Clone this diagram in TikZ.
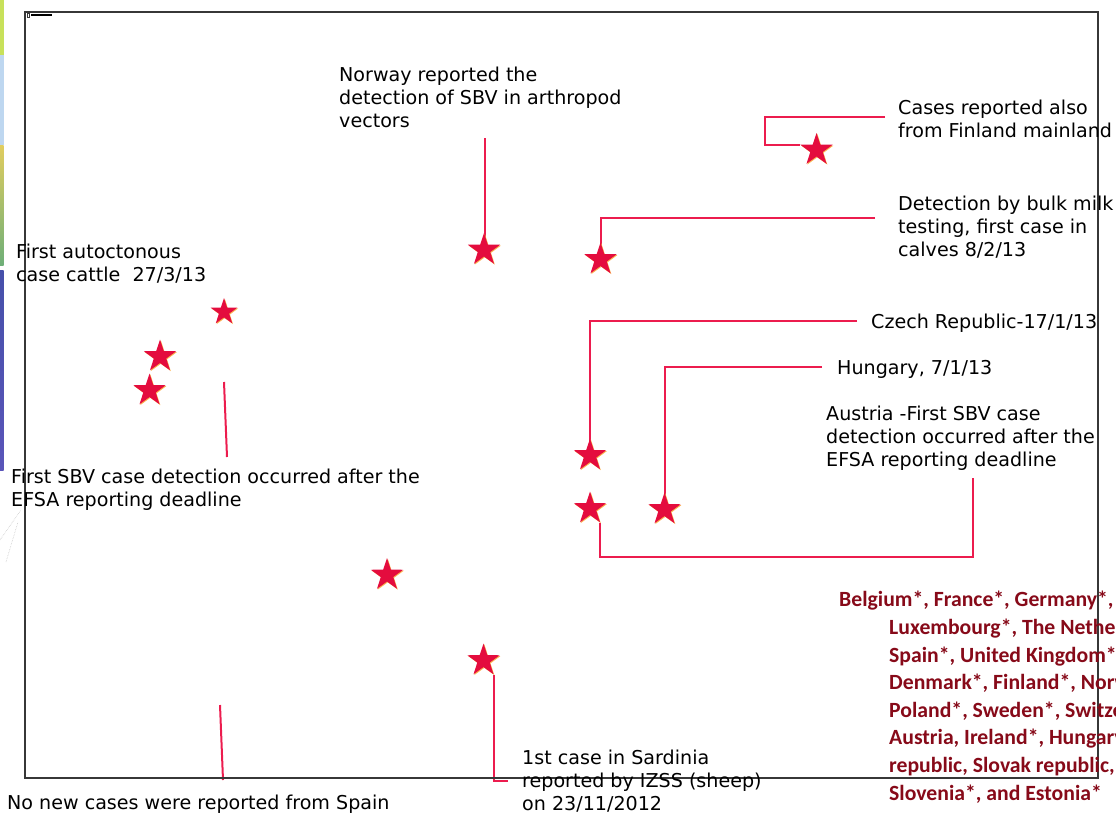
\documentclass[tikz,border=0pt]{standalone}
\usepackage{fontspec}
\setmainfont{DejaVu Sans}
\newfontfamily\listfont{Carlito}
\usetikzlibrary{shapes.geometric,backgrounds,shadows}

\definecolor{starred}{RGB}{228,12,62}
\definecolor{starglow}{RGB}{250,170,60}
\definecolor{linkred}{RGB}{236,28,78}
\definecolor{framegray}{RGB}{55,55,55}
\definecolor{listred}{RGB}{135,10,25}
\definecolor{stripA}{RGB}{200,225,90}
\definecolor{stripB}{RGB}{190,215,240}
\definecolor{stripC}{RGB}{225,205,95}
\definecolor{stripD}{RGB}{110,175,120}
\definecolor{stripE}{RGB}{70,80,170}
\definecolor{stripF}{RGB}{90,85,185}

\tikzset{
  case/.style={star, star points=5, star point ratio=2.6, fill=starred, draw=none,
    inner sep=0pt, minimum size=34pt,
    drop shadow={shadow xshift=0.8pt, shadow yshift=-0.8pt, fill=starglow, opacity=0.9}},
  smallcase/.style={case, minimum size=28pt},
  link/.style={draw=linkred, line width=2pt},
  % multi-line labels are placed by the baseline of their last line
  note/.style={anchor=base west, inner sep=0pt, align=left,
    font=\fontsize{19.1}{23}\selectfont},
  countries/.style={anchor=base west, inner sep=0pt, align=left, text=listred,
    font=\listfont\bfseries\fontsize{21.7}{27.6}\selectfont},
}

\begin{document}
\begin{tikzpicture}[x=1pt, y=-1pt]
\useasboundingbox (0,0) rectangle (1116,814);

% colour strip at the left edge
\fill[stripA] (0,0) rectangle (3.5,55);
\fill[stripB] (0,55) rectangle (3.5,145);
\shade[top color=stripC, bottom color=stripD] (0,145) rectangle (3.5,265);
\shade[top color=stripE, bottom color=stripF] (0,270) rectangle (3.5,470);
\draw[gray!45, densely dotted, line width=0.6pt] (0,540) -- (21,510);
\draw[gray!45, densely dotted, line width=0.6pt] (6,562) -- (18,522);

% map frame
\draw[framegray, line width=1.3pt] (25,12) rectangle (1098,778);
\draw[framegray, line width=0.5pt] (27,13.5) rectangle (29.5,17);
\fill[black] (31,13.5) rectangle (52,16);

% case markers
\node[case] (sNorway) at (484,250) {};
\node[case] (sBulk) at (600.5,259.5) {};
\node[case] (sFinland) at (816.5,150) {};
\node[smallcase] (sAuto) at (224,312) {};
\node[case] (sWestA) at (160,356.5) {};
\node[case] (sWestB) at (149.5,390.5) {};
\node[case] (sCzech) at (590,455.5) {};
\node[case] (sCzechB) at (590,508.5) {};
\node[case] (sHungary) at (664.5,509.5) {};
\node[case] (sItaly) at (387,575) {};
\node[case] (sSardinia) at (483.5,660.5) {};

% labels
\node[note] (tNorway) at (339,127) {Norway reported the\\detection of SBV in arthropod\\vectors};
\node[note] (tFinland) at (898,137) {Cases reported also\\from Finland mainland};
\node[note] (tBulk) at (898,256) {Detection by bulk milk\\testing, first case in\\calves 8/2/13};
\node[note] (tAuto) at (16,281) {First autoctonous\\case cattle\ \ 27/3/13};
\node[note] (tCzech) at (871,328) {Czech Republic-17/1/13};
\node[note] (tHungary) at (837,374) {Hungary, 7/1/13};
\node[note] (tAustria) at (826,466) {Austria -First SBV case\\detection occurred after the\\EFSA reporting deadline};
\node[note] (tEfsa) at (11,506) {First SBV case detection occurred after the\\EFSA reporting deadline};
\node[note] (tSpain) at (7,809) {No new cases were reported from Spain};
\node[note] (tSardinia) at (522,810) {1st case in Sardinia\\reported by IZSS (sheep)\\on 23/11/2012};

\begin{scope}
  \clip (0,0) rectangle (1116,814);
  \node[countries] (tList) at (889,800) {\hspace*{-50pt}Belgium*, France*, Germany*, Italy*,\\
    Luxembourg*, The Netherlands*,\\
    Spain*, United Kingdom*,\\
    Denmark*, Finland*, Norway*,\\
    Poland*, Sweden*, Switzerland*,\\
    Austria, Ireland*, Hungary, Czech\\
    republic, Slovak republic,\\
    Slovenia*, and Estonia*};
\end{scope}

% free ends of the connectors
\coordinate (nwEnd) at (485,138);
\coordinate (fiEnd) at (885,117);
\coordinate (buEnd) at (875,218);
\coordinate (czEnd) at (857,321);
\coordinate (huEnd) at (822,367);
\coordinate (atEnd) at (973,478);
\coordinate (saEnd) at (508,781);
\coordinate (autoTop) at (224,382);
\coordinate (autoBot) at (227,457);
\coordinate (spTop) at (220,705);
\coordinate (spBot) at (223,780);

% connectors
\begin{scope}[on background layer]
  \draw[link] (nwEnd) -- (nwEnd |- sNorway.center);
  \draw[link] (fiEnd) -- ++(-120,0) |- (sFinland.outer point 2);
  \draw[link] (buEnd) -| (sBulk.center);
  \draw[link] (czEnd) -| (sCzech.center);
  \draw[link] (huEnd) -| (sHungary.center);
  \draw[link] (atEnd) |- (sCzechB.outer point 4 |- 0,557) -- (sCzechB.outer point 4);
  \draw[link] (sSardinia.outer point 4) |- (saEnd);
  \draw[link] (autoTop) -- (autoBot);
  \draw[link] (spTop) -- (spBot);
\end{scope}
\end{tikzpicture}
\end{document}
